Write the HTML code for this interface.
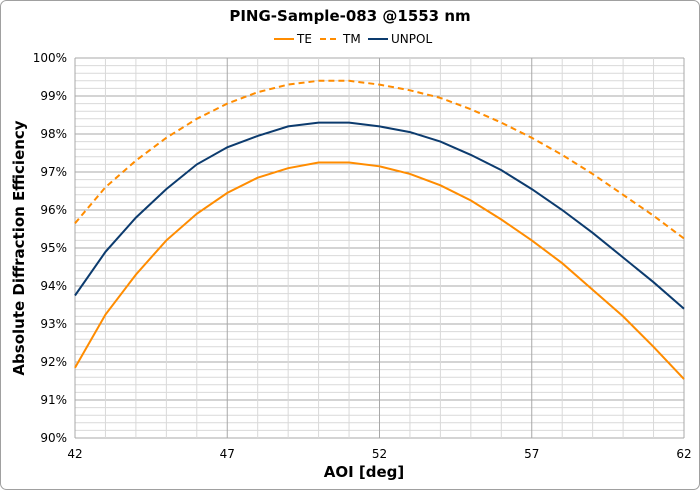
<!DOCTYPE html>
<html><head><meta charset="utf-8"><style>
body{margin:0;background:#fff;}
svg{display:block;font-family:"DejaVu Sans","Liberation Sans",sans-serif;}
</style></head><body>
<svg id="chart" width="700" height="490" viewBox="0 0 700 490">
<rect x="0.5" y="0.5" width="699" height="489" rx="6" fill="#fff" stroke="#a0a0a0"/>
<text x="350" y="21" text-anchor="middle" font-size="15" font-weight="bold" fill="#000">PING-Sample-083 @1553 nm</text>
<g id="legend" font-size="12" fill="#000">
<g><line x1="274" y1="39" x2="294" y2="39" stroke="#ff8c00" stroke-width="2"/><text x="297" y="43">TE</text></g>
<g><line x1="320" y1="39" x2="340" y2="39" stroke="#ff8c00" stroke-width="2" stroke-dasharray="6,4"/><text x="343" y="43">TM</text></g>
<g><line x1="368" y1="39" x2="388" y2="39" stroke="#0c3b6e" stroke-width="2"/><text x="391" y="43">UNPOL</text></g>
</g>
<g id="grid"></g>
<g id="axes"></g>
<g id="series"></g>
<text x="364" y="477" text-anchor="middle" font-size="15" font-weight="bold">AOI [deg]</text>
<text transform="translate(24,248) rotate(-90)" text-anchor="middle" font-size="15" font-weight="bold">Absolute Diffraction Efficiency</text>
</svg>
<script>
const aoi = [42,43,44,45,46,47,48,49,50,51,52,53,54,55,56,57,58,59,60,61,62];
const te = [91.85,93.25,94.3,95.2,95.9,96.45,96.85,97.1,97.25,97.25,97.15,96.95,96.65,96.25,95.75,95.2,94.6,93.9,93.2,92.4,91.55];
const tm = [95.65,96.6,97.3,97.9,98.4,98.8,99.1,99.3,99.4,99.4,99.3,99.15,98.95,98.65,98.3,97.9,97.45,96.95,96.4,95.85,95.25];
const unpol = [93.75,94.9,95.8,96.55,97.2,97.65,97.95,98.2,98.3,98.3,98.2,98.05,97.8,97.45,97.05,96.55,96.0,95.4,94.75,94.1,93.4];
const xTicks = [42,47,52,57,62];
const yTicks = [90,91,92,93,94,95,96,97,98,99,100];
const X0=75,X1=684,Y0=438,Y1=58;
const xMin=42,xMax=62,yMin=90,yMax=100;
function sx(v){return X0+(v-xMin)/(xMax-xMin)*(X1-X0);}
function sy(v){return Y0-(v-yMin)/(yMax-yMin)*(Y0-Y1);}
const NS="http://www.w3.org/2000/svg";
function mk(tag,attrs,parent){const e=document.createElementNS(NS,tag);for(const k in attrs)e.setAttribute(k,attrs[k]);parent.appendChild(e);return e;}
const grid=document.getElementById('grid'),axes=document.getElementById('axes'),series=document.getElementById('series');
for(let i=0;i<=50;i++){const v=yMin+i*0.2;const major=i%5===0;
 const l=mk('line',{x1:X0,x2:X1,y1:sy(v),y2:sy(v),stroke:major?'#a8a8a8':'#d9d9d9','stroke-width':1},grid);
 
 }
for(let v=xMin;v<=xMax;v++){const major=(v-xMin)%5===0;
 const l=mk('line',{x1:sx(v),x2:sx(v),y1:Y1,y2:Y0,stroke:major?'#a8a8a8':'#d9d9d9','stroke-width':1},grid);
 
 }
yTicks.forEach(v=>{const t=mk('text',{x:X0-8,y:sy(v)+4,'text-anchor':'end','font-size':12},axes);t.textContent=v+'%';
 
 });
xTicks.forEach(v=>{const t=mk('text',{x:sx(v),y:Y0+20,'text-anchor':'middle','font-size':12},axes);t.textContent=v;
 
 });
function line(vals,color,dash,name){const d=vals.map((v,i)=>(i?'L':'M')+sx(aoi[i]).toFixed(1)+','+sy(v).toFixed(1)).join(' ');
 const p=mk('path',{d:d,fill:'none',stroke:color,'stroke-width':2},series);if(dash)p.setAttribute('stroke-dasharray',dash);
 
 }
line(te,'#ff8c00',null,'te-line');
line(tm,'#ff8c00','6,4','tm-line');
line(unpol,'#0c3b6e',null,'unpol-line');
</script>
</body></html>
